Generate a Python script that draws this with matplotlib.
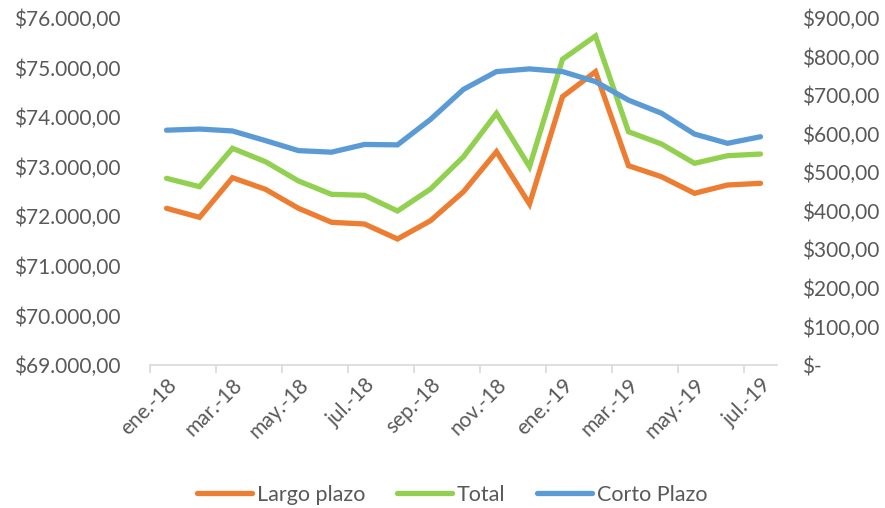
import numpy as np
import matplotlib
matplotlib.use("Agg")
import matplotlib.pyplot as plt
from matplotlib.ticker import FuncFormatter, FixedLocator

plt.rcParams['font.family'] = ['Lato', 'DejaVu Sans']

# data (monthly, ene-18 .. jul-19)
meses = ['ene.-18', 'feb.-18', 'mar.-18', 'abr.-18', 'may.-18', 'jun.-18',
         'jul.-18', 'ago.-18', 'sep.-18', 'oct.-18', 'nov.-18', 'dic.-18',
         'ene.-19', 'feb.-19', 'mar.-19', 'abr.-19', 'may.-19', 'jun.-19',
         'jul.-19']
largo_plazo = [72161, 71979, 72778, 72544, 72161, 71879, 71844, 71542, 71911,
               72496, 73303, 72248, 74412, 74917, 73020, 72798, 72464, 72631,
               72665]
total = [72766, 72597, 73371, 73101, 72712, 72443, 72423, 72107, 72550,
         73202, 74077, 73000, 75167, 75637, 73706, 73458, 73069, 73222, 73256]
corto_plazo = [609, 612, 607, 582, 556, 552, 572, 571, 637,
               715, 761, 768, 761, 735, 687, 653, 599, 575, 592]

gris = '#595959'
c_largo = '#ED7D31'
c_total = '#92D050'
c_corto = '#5B9BD5'


def fmt_left(v, pos):
    s = f"{v:,.2f}".replace(',', 'X').replace('.', ',').replace('X', '.')
    return '$' + s


def fmt_right(v, pos):
    if abs(v) < 1e-9:
        return '$-'
    s = f"{v:,.2f}".replace(',', 'X').replace('.', ',').replace('X', '.')
    return '$' + s


fig = plt.figure(figsize=(8.85, 5.08), dpi=100)
ax = fig.add_axes([150 / 885, 1 - 365 / 508, 627 / 885, 347 / 508])
ax2 = ax.twinx()

x = np.arange(len(meses))
l1, = ax.plot(x, largo_plazo, color=c_largo, lw=3.8, solid_capstyle='round',
              solid_joinstyle='miter', label='Largo plazo')
l2, = ax.plot(x, total, color=c_total, lw=3.8, solid_capstyle='round',
              solid_joinstyle='miter', label='Total')
l3, = ax2.plot(x, corto_plazo, color=c_corto, lw=3.8, solid_capstyle='round',
               solid_joinstyle='miter', label='Corto Plazo')

ax.set_xlim(-0.5, len(meses) - 0.5)
ax.set_ylim(69000, 76000)
ax2.set_ylim(0, 900)
ax.set_yticks(np.arange(69000, 76001, 1000))
ax2.set_yticks(np.arange(0, 901, 100))
ax.yaxis.set_major_formatter(FuncFormatter(fmt_left))
ax2.yaxis.set_major_formatter(FuncFormatter(fmt_right))

# tick marks between categories, labels on every other month
ax.xaxis.set_major_locator(FixedLocator(np.arange(-0.5, len(meses) - 1, 2)))
ax.xaxis.set_major_formatter(FuncFormatter(lambda v, p: ''))
ax.xaxis.set_minor_locator(FixedLocator(x[::2]))
ax.set_xticklabels([m for m in meses[::2]], minor=True)
ax.tick_params(axis='x', which='major', length=6, width=1.2, color='#D9D9D9')
ax.tick_params(axis='x', which='minor', length=0, pad=7, labelsize=15,
               labelcolor=gris)
for lbl in ax.get_xticklabels(minor=True):
    lbl.set_rotation(45)
    lbl.set_ha('right')
    lbl.set_rotation_mode('anchor')

ax.tick_params(axis='y', length=0, pad=21, labelsize=15, labelcolor=gris)
ax2.tick_params(axis='y', length=0, pad=18, labelsize=15, labelcolor=gris)

for a in (ax, ax2):
    for s in ('top', 'left', 'right'):
        a.spines[s].set_visible(False)
    a.spines['bottom'].set_color('#D9D9D9')
    a.spines['bottom'].set_linewidth(1.2)
ax2.spines['bottom'].set_visible(False)

leg = fig.legend(handles=[l1, l2, l3], loc='center', ncol=3,
                 bbox_to_anchor=(0.511, 1 - 495 / 508), frameon=False,
                 fontsize=15.5, handlelength=2.55, columnspacing=1.5,
                 handletextpad=0.2)
for t in leg.get_texts():
    t.set_color(gris)

fig.savefig('out.png', dpi=100)
